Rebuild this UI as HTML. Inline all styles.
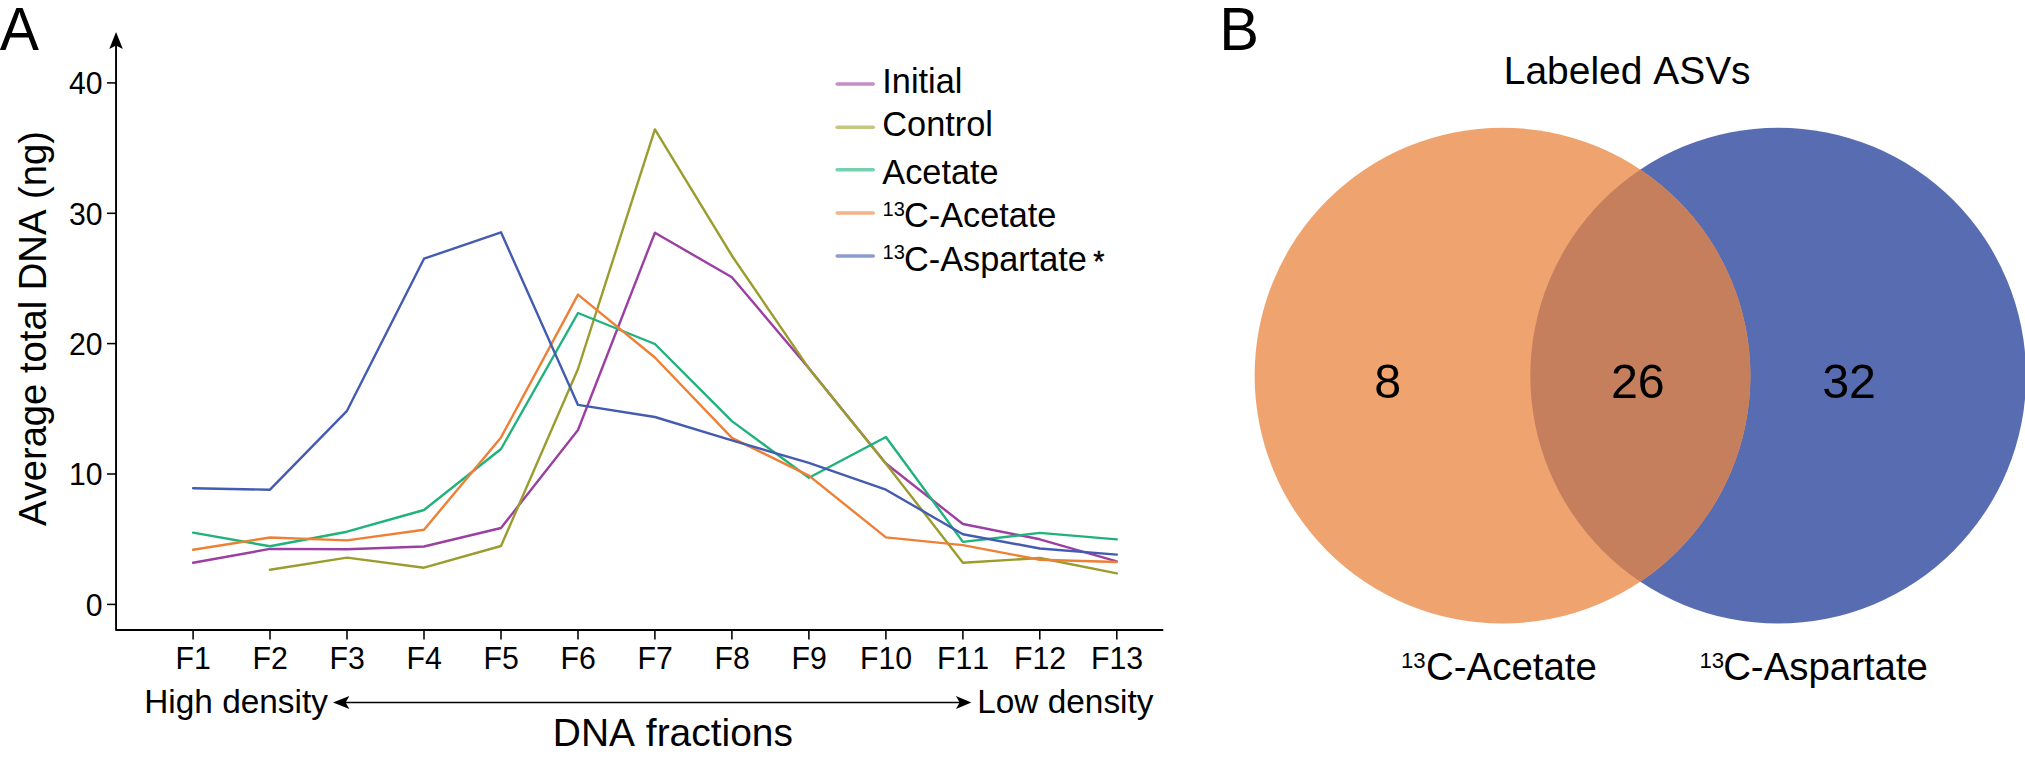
<!DOCTYPE html>
<html lang="en"><head><meta charset="utf-8"><title>Figure</title>
<style>
html,body{margin:0;padding:0;background:#fff;}
body{width:2025px;height:758px;overflow:hidden;}
svg{display:block;}
text{font-family:"Liberation Sans", sans-serif;fill:#000;font-kerning:none;}
</style></head><body>
<svg width="2025" height="758" viewBox="0 0 2025 758">
<rect width="2025" height="758" fill="#fff"/>
<text transform="translate(-0.3 50) scale(1 1.03)" font-size="58.8">A</text>
<g stroke="#000" stroke-width="1.9" fill="none" stroke-linejoin="round">
<path d="M116.05 40 V630.0 H1163.3"/>
</g>
<path d="M116.05 31.9 L122.85 49 L116.05 45.5 L109.25 49 Z" fill="#000"/>
<g stroke="#000" stroke-width="1.55">
<line x1="107" x2="116.05" y1="604.4" y2="604.4"/>
<line x1="107" x2="116.05" y1="474.0" y2="474.0"/>
<line x1="107" x2="116.05" y1="343.6" y2="343.6"/>
<line x1="107" x2="116.05" y1="213.3" y2="213.3"/>
<line x1="107" x2="116.05" y1="82.9" y2="82.9"/>
<line x1="193.1" x2="193.1" y1="630.0" y2="639.6"/>
<line x1="270.0" x2="270.0" y1="630.0" y2="639.6"/>
<line x1="347.0" x2="347.0" y1="630.0" y2="639.6"/>
<line x1="424.0" x2="424.0" y1="630.0" y2="639.6"/>
<line x1="501.0" x2="501.0" y1="630.0" y2="639.6"/>
<line x1="578.0" x2="578.0" y1="630.0" y2="639.6"/>
<line x1="654.9" x2="654.9" y1="630.0" y2="639.6"/>
<line x1="731.9" x2="731.9" y1="630.0" y2="639.6"/>
<line x1="808.9" x2="808.9" y1="630.0" y2="639.6"/>
<line x1="885.9" x2="885.9" y1="630.0" y2="639.6"/>
<line x1="962.9" x2="962.9" y1="630.0" y2="639.6"/>
<line x1="1039.8" x2="1039.8" y1="630.0" y2="639.6"/>
<line x1="1116.8" x2="1116.8" y1="630.0" y2="639.6"/>
</g>
<g font-size="30.2" text-anchor="end">
<text transform="translate(102.6 615.6) scale(1 1.035)">0</text>
<text transform="translate(102.6 485.2) scale(1 1.035)">10</text>
<text transform="translate(102.6 354.8) scale(1 1.035)">20</text>
<text transform="translate(102.6 224.5) scale(1 1.035)">30</text>
<text transform="translate(102.6 94.1) scale(1 1.035)">40</text>
</g>
<g font-size="30.3" text-anchor="middle">
<text transform="translate(193.2 668.6) scale(1 1.045)">F1</text>
<text transform="translate(270.2 668.6) scale(1 1.045)">F2</text>
<text transform="translate(347.2 668.6) scale(1 1.045)">F3</text>
<text transform="translate(424.2 668.6) scale(1 1.045)">F4</text>
<text transform="translate(501.2 668.6) scale(1 1.045)">F5</text>
<text transform="translate(578.2 668.6) scale(1 1.045)">F6</text>
<text transform="translate(655.1 668.6) scale(1 1.045)">F7</text>
<text transform="translate(732.1 668.6) scale(1 1.045)">F8</text>
<text transform="translate(809.1 668.6) scale(1 1.045)">F9</text>
<text transform="translate(886.1 668.6) scale(1 1.045)">F10</text>
<text transform="translate(963.1 668.6) scale(1 1.045)">F11</text>
<text transform="translate(1040.0 668.6) scale(1 1.045)">F12</text>
<text transform="translate(1117.0 668.6) scale(1 1.045)">F13</text>
</g>
<text transform="translate(45.6 328.5) rotate(-90)" font-size="38.2" text-anchor="middle">Average total DNA (ng)</text>
<text x="672.9" y="745.7" font-size="38.93" text-anchor="middle">DNA fractions</text>
<text x="144.2" y="712.8" font-size="33.4">High density</text>
<text x="977.2" y="712.8" font-size="33.4">Low density</text>
<line x1="340" x2="964" y1="702.4" y2="702.4" stroke="#000" stroke-width="1.5"/>
<path d="M333 702.4 L349.4 695.9 L345.6 702.4 L349.4 708.9 Z" fill="#000"/>
<path d="M971.4 702.4 L955.9 695.9 L959.7 702.4 L955.9 708.9 Z" fill="#000"/>
<g fill="none" stroke-width="2.40" stroke-linecap="round" stroke-linejoin="round">
<polyline stroke="#9B3FA2" points="193.1,562.8 270.0,548.9 347.0,549.2 424.0,546.5 501.0,528.0 578.0,430.0 654.9,232.7 731.9,277.3 808.9,368.2 885.9,463.5 962.9,524.0 1039.8,539.3 1116.8,561.3"/>
<polyline stroke="#9A9D2E" points="270.0,569.8 347.0,557.6 424.0,567.7 501.0,546.0 578.0,369.0 654.9,129.4 731.9,255.7 808.9,368.4 885.9,463.7 962.9,562.7 1039.8,558.0 1116.8,573.4"/>
<polyline stroke="#20B27B" points="193.1,532.6 270.0,546.3 347.0,531.7 424.0,510.0 501.0,449.0 578.0,313.0 654.9,344.0 731.9,421.1 808.9,477.8 885.9,437.0 962.9,541.9 1039.8,532.9 1116.8,539.4"/>
<polyline stroke="#EE8036" points="193.1,549.7 270.0,537.5 347.0,540.4 424.0,529.7 501.0,437.4 578.0,294.6 654.9,357.5 731.9,437.9 808.9,475.6 885.9,537.4 962.9,545.1 1039.8,559.8 1116.8,562.0"/>
<polyline stroke="#435BB0" points="193.1,488.2 270.0,489.7 347.0,410.8 424.0,258.7 501.0,232.3 578.0,404.9 654.9,417.0 731.9,440.4 808.9,462.8 885.9,489.7 962.9,534.2 1039.8,548.5 1116.8,554.6"/>
</g>
<g stroke-width="3.6" stroke-linecap="round">
<line x1="837.2" x2="873.2" y1="84.0" y2="84.0" stroke="#C48FC8"/>
<line x1="837.2" x2="873.2" y1="127.3" y2="127.3" stroke="#C5C682"/>
<line x1="837.2" x2="873.2" y1="169.7" y2="169.7" stroke="#76D1AE"/>
<line x1="837.2" x2="873.2" y1="213.0" y2="213.0" stroke="#F5B389"/>
<line x1="837.2" x2="873.2" y1="256.0" y2="256.0" stroke="#8D9BD0"/>
</g>
<g font-size="34.3">
<text x="882.3" y="92.5">Initial</text>
<text x="882.3" y="135.5">Control</text>
<text x="882.3" y="183.8">Acetate</text>
<text x="882.6" y="227.2"><tspan font-size="20" dy="-11.4">13</tspan><tspan dy="11.4" dx="-0.9">C-Acetate</tspan></text>
<text x="882.6" y="270.6"><tspan font-size="20" dy="-11.4">13</tspan><tspan dy="11.4" dx="-0.9">C-Aspartate</tspan></text>
</g>
<text x="1098.95" y="271.2" font-size="28.7" text-anchor="middle" stroke="#000" stroke-width="0.45">*</text>
<text transform="translate(1219.2 49.8) scale(1 1.012)" font-size="59.6">B</text>
<text x="1627.2" y="84.1" font-size="38.95" text-anchor="middle">Labeled ASVs</text>
<circle cx="1778.2" cy="375.6" r="247.9" fill="#586CB1"/>
<circle cx="1502.5" cy="375.6" r="247.9" fill="#EFA470"/>
<clipPath id="cb"><circle cx="1778.2" cy="375.6" r="247.9"/></clipPath>
<circle cx="1502.5" cy="375.6" r="247.9" fill="#C57F5D" clip-path="url(#cb)"/>
<g font-size="48.4" text-anchor="middle">
<text x="1387.6" y="397.6">8</text>
<text x="1637.8" y="397.6">26</text>
<text x="1849.1" y="397.6">32</text>
</g>
<g font-size="38.4">
<text x="1401" y="680.2"><tspan font-size="22.2" dy="-12.6">13</tspan><tspan dy="12.6" dx="0.4">C-Acetate</tspan></text>
<text x="1699.4" y="680.2"><tspan font-size="22.2" dy="-12.6">13</tspan><tspan dy="12.6" dx="-0.95">C-Aspartate</tspan></text>
</g>
</svg>
</body></html>
